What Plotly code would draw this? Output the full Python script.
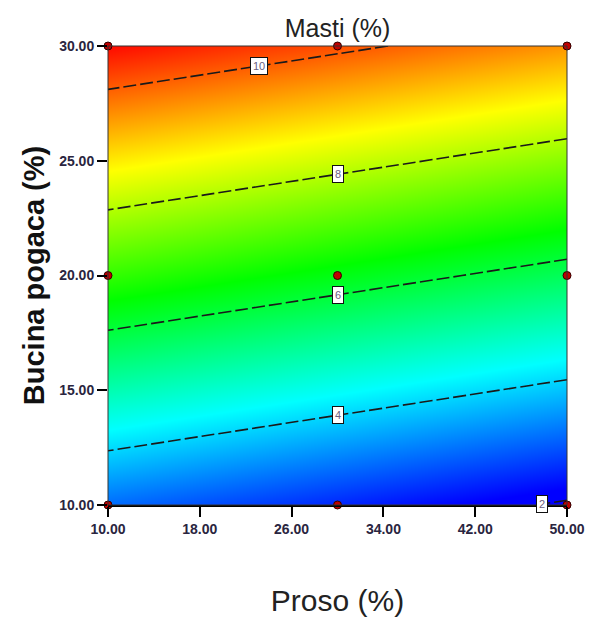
import numpy as np
import plotly.graph_objects as go

# Factor levels (design grid)
proso = [10, 30, 50]          # Proso (%)
bucina = [10, 20, 30]         # Bucina pogaca (%)

# Predicted Masti (%) at the grid nodes (rows follow bucina, columns follow proso)
masti = [
    [3.10, 2.51, 1.92],
    [6.91, 6.32, 5.73],
    [10.72, 10.13, 9.54],
]

# Design points
pts_x = [10, 30, 50, 10, 30, 50, 10, 30, 50]
pts_y = [30, 30, 30, 20, 20, 20, 10, 10, 10]

# Contour levels and where their labels sit along Proso
levels = [2, 4, 6, 8, 10]
label_at = [47.8, 30, 30, 30, 23.2]

x_ticks = [10, 18, 26, 34, 42, 50]
y_ticks = [10, 15, 20, 25, 30]

FONT = "Arial, Liberation Sans, sans-serif"
TICK_COLOR = "#2a2540"

rainbow = [
    [0.0, "rgb(0,0,255)"],
    [0.25, "rgb(0,255,255)"],
    [0.5, "rgb(0,255,0)"],
    [0.75, "rgb(255,255,0)"],
    [1.0, "rgb(255,0,0)"],
]

z = np.array(masti)

fig = go.Figure()

fig.add_trace(go.Contour(
    x=proso, y=bucina, z=z,
    colorscale=rainbow,
    zmin=2.2, zmax=10.8,
    showscale=False,
    contours=dict(coloring="heatmap", start=levels[0], end=levels[-1],
                  size=levels[1] - levels[0], showlabels=False),
    line=dict(color="#1a1a1a", width=1.6, dash="13px,4px"),
    hoverinfo="skip",
))

fig.add_trace(go.Scatter(
    x=pts_x, y=pts_y, mode="markers",
    marker=dict(size=8, color="#c00000", line=dict(color="#330000", width=1)),
    cliponaxis=False, hoverinfo="skip", showlegend=False,
))

# Boxed contour labels placed on each level line
for lev, xl in zip(levels, label_at):
    col = [np.interp(xl, proso, row) for row in masti]
    yl = float(np.interp(lev, col, bucina))
    fig.add_annotation(
        x=xl, y=yl, text=str(lev), showarrow=False,
        font=dict(family=FONT, size=11, color="#6a6080"),
        bgcolor="white", bordercolor="#111", borderwidth=1, borderpad=2,
    )

fig.update_layout(
    width=589, height=617,
    margin=dict(l=108, r=22, t=46, b=112),
    paper_bgcolor="white", plot_bgcolor="white",
    showlegend=False,
    title=dict(text="Masti (%)", x=0.5, xref="paper", xanchor="center",
               y=1 - 28 / 617, yref="container", yanchor="middle",
               font=dict(family=FONT, size=25, color="#222")),
    font=dict(family=FONT),
)

fig.update_xaxes(
    range=[10, 50], tickvals=x_ticks, tickformat=".2f", automargin=False,
    ticks="outside", ticklen=10, tickwidth=2, tickcolor="black",
    showline=True, linecolor="black", linewidth=2, mirror=False,
    showgrid=False, zeroline=False,
    tickfont=dict(family=FONT, size=14, color=TICK_COLOR, weight="bold"),
    title=dict(text="Proso (%)", standoff=56,
               font=dict(family=FONT, size=30, color="#222")),
)

fig.update_yaxes(
    range=[10, 30], tickvals=y_ticks, tickformat=".2f", automargin=False,
    ticks="outside", ticklen=10, tickwidth=2, tickcolor="black",
    showline=False, showgrid=False, zeroline=False,
    tickfont=dict(family=FONT, size=14, color=TICK_COLOR, weight="bold"),
    title=dict(text="Bucina pogaca (%)", standoff=6,
               font=dict(family=FONT, size=29, color="#111", weight="bold")),
)

# Thin frame round the plotting area
fig.add_shape(type="rect", xref="paper", yref="paper", x0=0, x1=1, y0=0, y1=1,
              line=dict(color="#333", width=1), layer="above")

fig.write_html("out.html")
